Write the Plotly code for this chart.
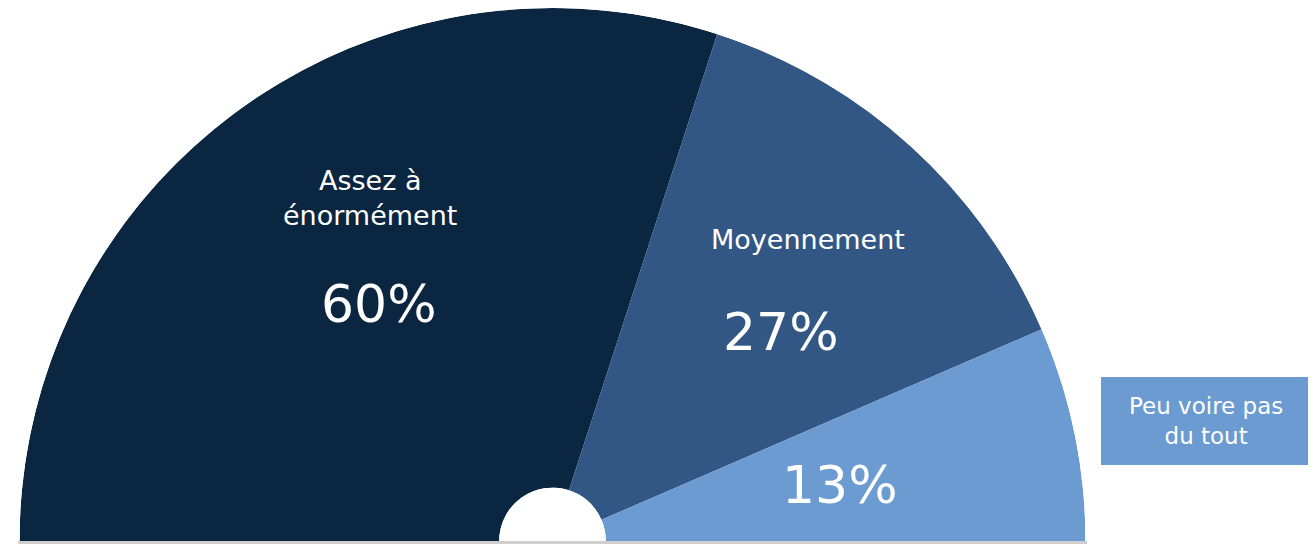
import plotly.graph_objects as go

categories = ["Assez à énormément", "Moyennement", "Peu voire pas du tout"]
values = [60, 27, 13]
colors = ["#0b2640", "#335784", "#6b9bd1"]
label_text = ["Assez à<br>énormément", "Moyennement", "Peu voire pas<br>du tout"]

# page body has an 8px margin; figure is sized to fit the window
OFF = 8
W, H = 1316 - OFF, 544 - OFF
L, R, T, B = 11, 230, 0, 3
pw, ph = W - L - R, H - T - B
FONT = "DejaVu Sans"

def px(x):
    return (x - OFF - L) / pw

def py(y):
    return (H - B - (y - OFF)) / ph

# angles: 100% = 180 degrees, starting from the left going clockwise over the top
widths = [v * 1.8 for v in values]
thetas = []
acc = 0
for w in widths:
    thetas.append(acc + w / 2)
    acc += w

fig = go.Figure()
fig.add_trace(go.Barpolar(
    r=[1] * len(values),
    theta=thetas,
    width=widths,
    marker=dict(color=colors, line=dict(width=0)),
    text=categories,
    hoverinfo="text",
    showlegend=False,
))

fig.update_layout(
    width=W, height=H,
    margin=dict(l=L, r=R, t=T, b=B),
    paper_bgcolor="white",
    plot_bgcolor="white",
    polar=dict(
        sector=[0, 180],
        hole=0.1,
        bgcolor="white",
        angularaxis=dict(direction="clockwise", rotation=180, visible=False,
                         showgrid=False, showline=False, showticklabels=False, ticks=""),
        radialaxis=dict(range=[0, 1], visible=False, showgrid=False,
                        showline=False, showticklabels=False, ticks=""),
    ),
    font=dict(family=FONT, color="white"),
)

def note(x, y, text, size):
    return dict(x=px(x), y=py(y), text=text, xref="paper", yref="paper",
                xanchor="center", yanchor="middle", showarrow=False,
                font=dict(size=size, color="white", family=FONT))

ann = [
    note(370, 198, label_text[0], 27),
    note(379, 304, f"{values[0]}%", 52),
    note(808, 239, label_text[1], 27),
    note(781, 332, f"{values[1]}%", 52),
    note(840, 485, f"{values[2]}%", 52),
    note(1206, 421, label_text[2], 23),
]
fig.update_layout(annotations=ann)

fig.add_shape(type="rect", xref="paper", yref="paper",
              x0=px(1101), x1=px(1310), y0=py(465), y1=py(377),
              fillcolor=colors[2], line=dict(width=0), layer="below")
# soft shadow under the gauge base
fig.add_shape(type="rect", xref="paper", yref="paper",
              x0=px(18), x1=px(1087), y0=py(544), y1=py(541),
              fillcolor="#cfcfcf", line=dict(width=0), layer="below")

fig.write_html("out.html")
